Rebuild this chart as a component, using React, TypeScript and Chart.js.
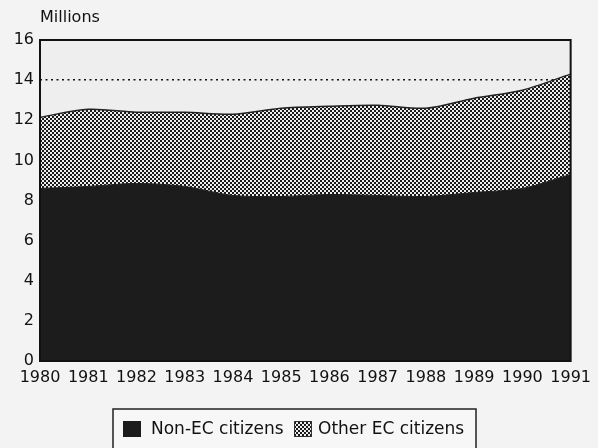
import React, { useEffect, useRef } from "react";
import { Chart, registerables } from "chart.js";

Chart.register(...registerables);

const years = ["1980", "1981", "1982", "1983", "1984", "1985", "1986", "1987", "1988", "1989", "1990", "1991"];
const nonEC = [8.6, 8.7, 8.85, 8.7, 8.25, 8.2, 8.3, 8.25, 8.2, 8.4, 8.6, 9.3];
const otherEC = [3.55, 3.85, 3.55, 3.7, 4.05, 4.4, 4.4, 4.5, 4.4, 4.7, 4.9, 5.0];
const seriesNames = ["Non-EC citizens", "Other EC citizens"];
const yUnit = "Millions";
const yMin = 0;
const yMax = 16;
const yStep = 2;
const refLine = 14;

const FONT = "DejaVu Sans";

function makePattern(): CanvasPattern | string {
  const tile = document.createElement("canvas");
  tile.width = 4;
  tile.height = 4;
  const c = tile.getContext("2d");
  if (!c) return "#888";
  c.fillStyle = "#eeeeee";
  c.fillRect(0, 0, 4, 4);
  c.fillStyle = "#1a1a1a";
  c.fillRect(0, 0, 2, 2);
  c.fillRect(2, 2, 2, 2);
  const p = c.createPattern(tile, "repeat");
  return p || "#888";
}

export default function App() {
  const ref = useRef<HTMLCanvasElement | null>(null);

  useEffect(() => {
    const canvas = ref.current;
    if (!canvas) return;
    const pattern = makePattern();

    const bgPlugin = {
      id: "bgPlugin",
      beforeDraw(chart: any) {
        const { ctx, chartArea } = chart;
        ctx.save();
        ctx.fillStyle = "#f3f3f3";
        ctx.fillRect(0, 0, chart.width, chart.height);
        ctx.fillStyle = "#eeeeee";
        ctx.fillRect(chartArea.left, chartArea.top, chartArea.right - chartArea.left, chartArea.bottom - chartArea.top);
        ctx.restore();
      },
      afterDraw(chart: any) {
        const { ctx, chartArea } = chart;
        ctx.save();
        // frame
        ctx.strokeStyle = "#111";
        ctx.lineWidth = 2;
        ctx.strokeRect(chartArea.left, chartArea.top, chartArea.right - chartArea.left, chartArea.bottom - chartArea.top);
        // unit label
        ctx.fillStyle = "#111";
        ctx.font = `16px "${FONT}"`;
        ctx.textAlign = "left";
        ctx.textBaseline = "middle";
        ctx.fillText(yUnit, chartArea.left, 18);
        // legend
        const lx = 113;
        const ly = 409;
        ctx.lineWidth = 1.5;
        ctx.strokeStyle = "#222";
        ctx.fillStyle = "#f7f7f7";
        ctx.fillRect(lx, ly, 363, 60);
        ctx.strokeRect(lx, ly, 363, 60);
        ctx.font = `17px "${FONT}"`;
        ctx.textBaseline = "middle";
        // item 1
        ctx.fillStyle = "#1c1c1c";
        ctx.fillRect(123, 421, 18, 16);
        ctx.fillStyle = "#111";
        ctx.fillText(seriesNames[0], 151, 430);
        // item 2
        ctx.fillStyle = pattern as any;
        ctx.fillRect(294, 421, 18, 16);
        ctx.lineWidth = 1;
        ctx.strokeStyle = "#333";
        ctx.strokeRect(294.5, 421.5, 17, 15);
        ctx.fillStyle = "#111";
        ctx.fillText(seriesNames[1], 318, 430);
        ctx.restore();
      },
    };

    const chart = new Chart(canvas, {
      type: "line",
      data: {
        labels: years,
        datasets: [
          {
            label: seriesNames[0],
            data: nonEC,
            fill: "origin",
            backgroundColor: "#1c1c1c",
            borderColor: "#1c1c1c",
            borderWidth: 1,
            pointRadius: 0,
            tension: 0.3,
          },
          {
            label: seriesNames[1],
            data: otherEC,
            fill: "-1",
            backgroundColor: pattern as any,
            borderColor: "#222",
            borderWidth: 1.5,
            pointRadius: 0,
            tension: 0.3,
          },
        ],
      },
      options: {
        animation: false,
        responsive: false,
        maintainAspectRatio: false,
        layout: { padding: { top: 40, right: 27, left: 0, bottom: 0 } },
        plugins: {
          legend: { display: false },
          tooltip: { enabled: false },
          title: { display: false },
        },
        scales: {
          x: {
            type: "category",
            offset: false,
            grid: { display: false, drawTicks: false },
            border: { display: false },
            ticks: {
              color: "#111",
              padding: 7,
              maxRotation: 0,
              autoSkip: false,
              font: { family: FONT, size: 16 },
            },
            afterFit(scale: any) {
              scale.height = 87;
            },
          },
          y: {
            stacked: true,
            min: yMin,
            max: yMax,
            border: { display: false, dash: [2, 3.5] },
            grid: {
              drawTicks: false,
              color: (ctx: any) => (ctx.tick && ctx.tick.value === refLine ? "#111" : "rgba(0,0,0,0)"),
              lineWidth: 1.5,
            },
            ticks: {
              stepSize: yStep,
              color: "#111",
              padding: 6,
              font: { family: FONT, size: 16 },
            },
            afterFit(scale: any) {
              scale.width = 40;
            },
          },
        },
      } as any,
      plugins: [bgPlugin],
    });

    return () => chart.destroy();
  }, []);

  return (
    <div style={{ position: "fixed", left: 0, top: 0, width: 598, height: 448, background: "#f3f3f3" }}>
      <canvas ref={ref} width={598} height={448} style={{ display: "block", width: 598, height: 448 }} />
    </div>
  );
}
